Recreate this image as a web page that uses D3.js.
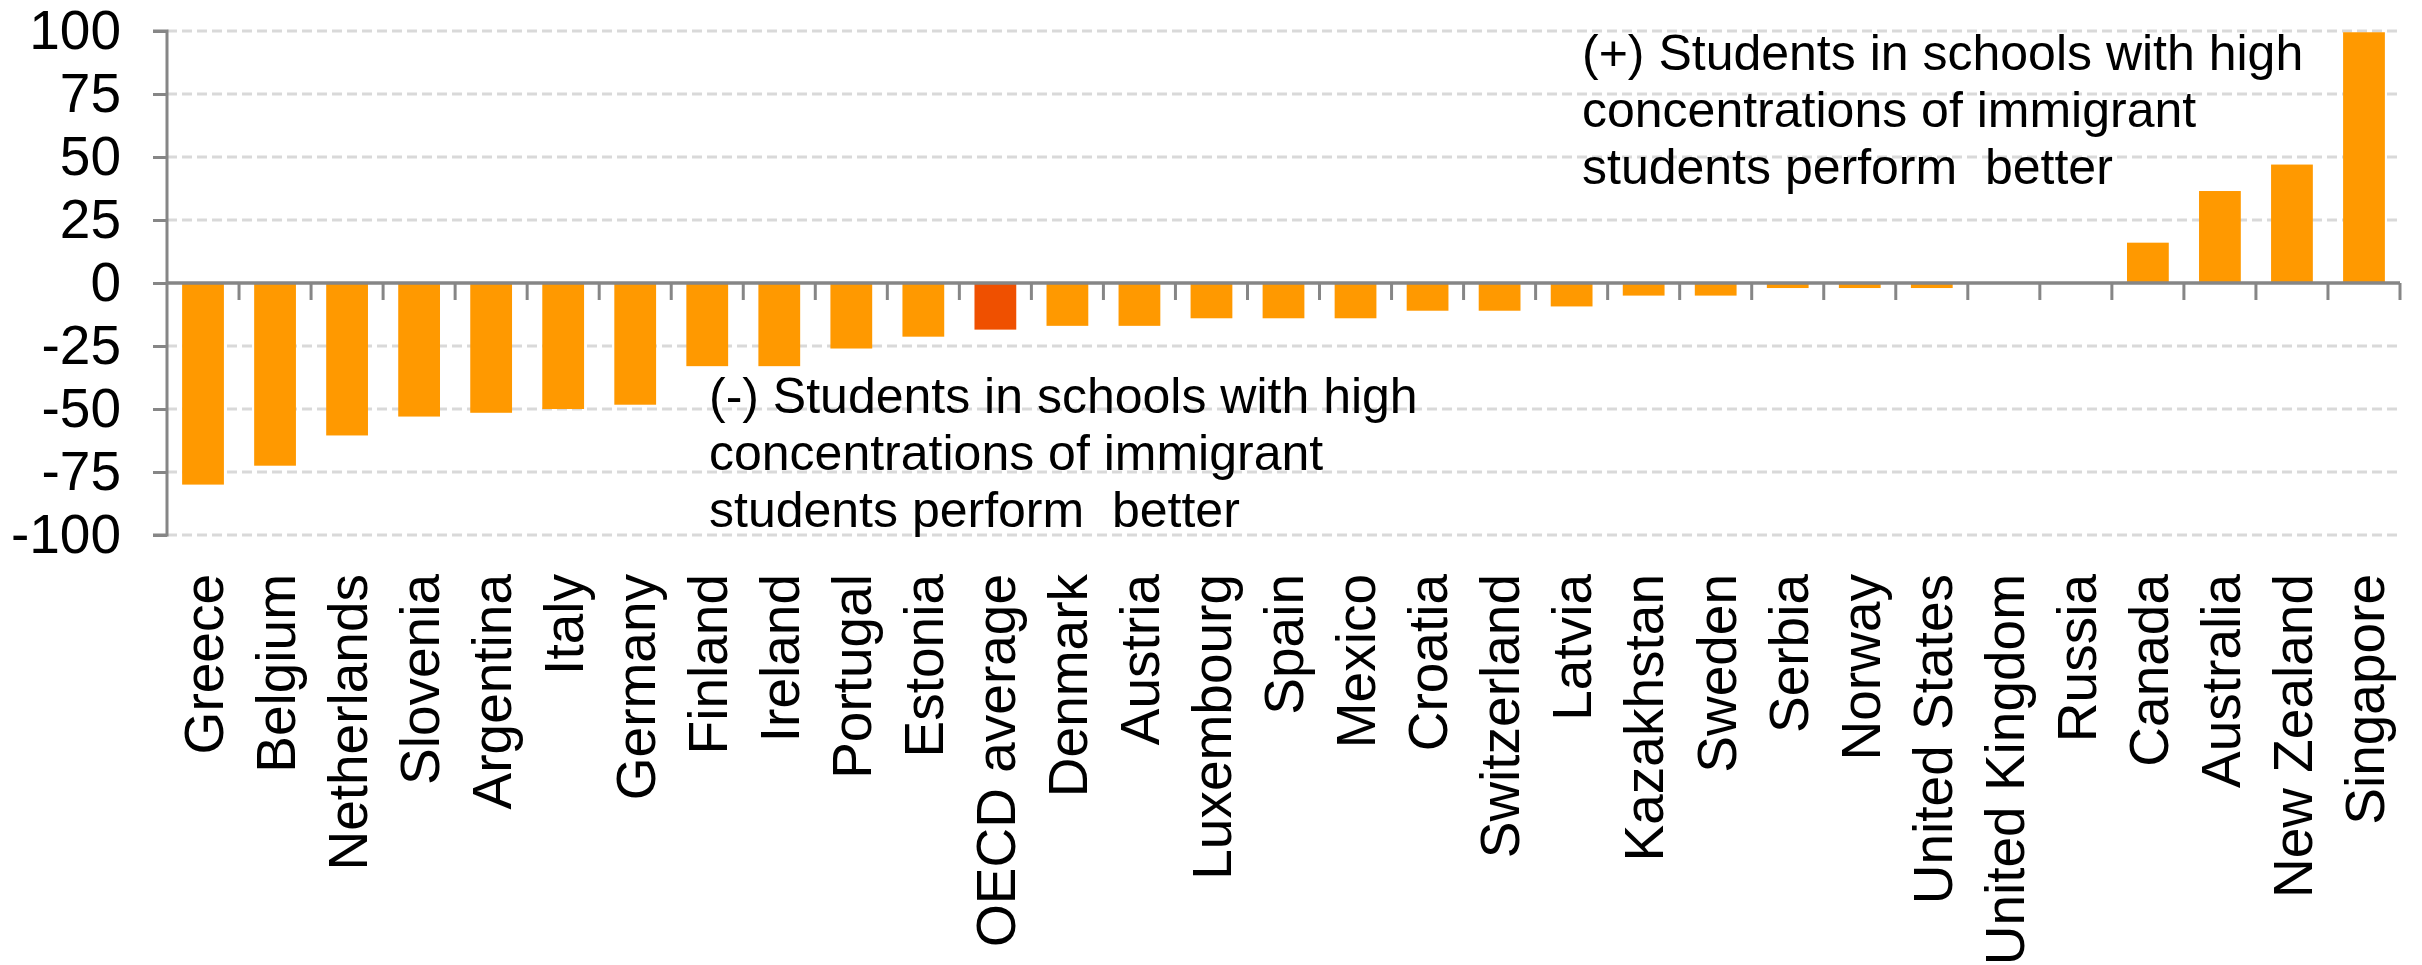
<!DOCTYPE html>
<html>
<head>
<meta charset="utf-8">
<script src="https://cdn.jsdelivr.net/npm/d3@7"></script>
<style>
  html, body { margin: 0; padding: 0; background: #fff; }
  svg { display: block; font-family: "Liberation Sans", Arial, sans-serif; }
</style>
</head>
<body>
<div id="chart"></div>
<script>
// 数据
const countries = [
  'Greece', 'Belgium', 'Netherlands', 'Slovenia', 'Argentina', 'Italy', 'Germany',
  'Finland', 'Ireland', 'Portugal', 'Estonia', 'OECD average', 'Denmark', 'Austria',
  'Luxembourg', 'Spain', 'Mexico', 'Croatia', 'Switzerland', 'Latvia', 'Kazakhstan',
  'Sweden', 'Serbia', 'Norway', 'United States', 'United Kingdom', 'Russia',
  'Canada', 'Australia', 'New Zealand', 'Singapore'
]
const scoreDiff = [
  -80, -72.5, -60.5, -53, -51.5, -50, -48.3,
  -33, -33, -26, -21.3, -18.5, -17, -17,
  -14, -14, -14, -11, -11, -9.3, -5,
  -5, -2, -2, -2, 0, 0,
  16, 36.5, 47, 99.5
]
const highlighted = ['OECD average']
const yTicks = [100, 75, 50, 25, 0, -25, -50, -75, -100]
const noteUp = [
  '(+) Students in schools with high',
  'concentrations of immigrant',
  'students perform  better'
]
const noteDown = [
  '(-) Students in schools with high',
  'concentrations of immigrant',
  'students perform  better'
]

const width = 2422
const height = 965
const margin = { left: 167, right: 22, top: 31, bottom: 430 }

const svg = d3.select('#chart')
  .append('svg')
  .attr('width', width)
  .attr('height', height)

const x = d3.scaleBand()
  .domain(countries)
  .range([margin.left, width - margin.right])
  .paddingInner(0.42)
  .paddingOuter(0.21)

const y = d3.scaleLinear()
  .domain([-100, 100])
  .range([height - margin.bottom, margin.top])

// 网格线
svg.append('g')
  .selectAll('line')
  .data(yTicks.filter(d => d !== 0))
  .join('line')
  .attr('x1', margin.left)
  .attr('x2', width - margin.right)
  .attr('y1', d => y(d))
  .attr('y2', d => y(d))
  .attr('stroke', '#d9d9d9')
  .attr('stroke-width', 3)
  .attr('stroke-dasharray', '10,5')

// 柱子
svg.append('g')
  .selectAll('rect')
  .data(countries.map((c, i) => ({ name: c, value: scoreDiff[i] })))
  .join('rect')
  .attr('x', d => x(d.name))
  .attr('width', x.bandwidth())
  .attr('y', d => y(Math.max(0, d.value)))
  .attr('height', d => Math.abs(y(d.value) - y(0)))
  .attr('fill', d => highlighted.includes(d.name) ? '#ef5000' : '#ff9900')

// y 轴
const yAxis = svg.append('g')
  .attr('transform', `translate(${margin.left},0)`)
  .call(d3.axisLeft(y).tickValues(yTicks).tickSize(14).tickPadding(32).tickFormat(d => String(d)))

yAxis.select('.domain')
  .attr('stroke', '#868686')
  .attr('stroke-width', 3)
  .attr('d', `M-14,${y(100)}H0V${y(-100)}H-14`)
yAxis.selectAll('.tick line').attr('stroke', '#868686').attr('stroke-width', 3)
yAxis.selectAll('.tick text')
  .attr('font-size', 55)
  .attr('font-family', '"Liberation Sans", Arial, sans-serif')
  .attr('fill', '#000')

// x 轴（零线 + 类别分隔刻度）
svg.append('line')
  .attr('x1', margin.left)
  .attr('x2', width - margin.right)
  .attr('y1', y(0))
  .attr('y2', y(0))
  .attr('stroke', '#868686')
  .attr('stroke-width', 3.5)

const boundaries = countries.map(c => x(c) - x.step() * x.paddingInner() / 2)
boundaries.push(width - margin.right)
svg.append('g')
  .selectAll('line')
  .data(boundaries.slice(1))
  .join('line')
  .attr('x1', d => d)
  .attr('x2', d => d)
  .attr('y1', y(0))
  .attr('y2', y(0) + 17)
  .attr('stroke', '#868686')
  .attr('stroke-width', 3)

// 类别标签
svg.append('g')
  .selectAll('text')
  .data(countries)
  .join('text')
  .attr('transform', d => `translate(${x(d) + x.bandwidth() / 2},574) rotate(-90)`)
  .attr('text-anchor', 'end')
  .attr('dy', '0.36em')
  .attr('font-size', 55)
  .attr('fill', '#000')
  .text(d => d)

// 注释
const drawNote = (lines, x0, y0) => {
  svg.append('text')
    .attr('font-size', 50)
    .attr('fill', '#000')
    .style('white-space', 'pre')
    .selectAll('tspan')
    .data(lines)
    .join('tspan')
    .attr('x', x0)
    .attr('y', (d, i) => y0 + i * 57)
    .text(d => d)
}
drawNote(noteUp, 1582, 70)
drawNote(noteDown, 709, 413)
</script>
</body>
</html>
